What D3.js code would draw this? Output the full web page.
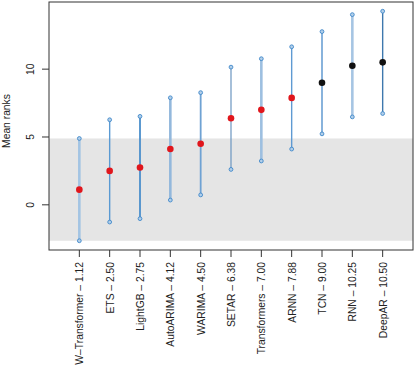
<!DOCTYPE html>
<html lang='en'>

<head>
   <meta charset='UTF-8'>
   <title>Mean ranks</title>
   <script src='https://d3js.org/d3.v7.min.js'></script>
   <style>
      body {
         margin: 0;
         background: #fff;
      }

      svg text {
         font-family: 'Liberation Sans', Arial, Helvetica, sans-serif;
         fill: #222;
      }
   </style>
</head>

<body>
   <div id='svg-container'></div>
   <script>

      const models = ['W–Transformer', 'ETS', 'LightGB', 'AutoARIMA', 'WARIMA', 'SETAR',
         'Transformers', 'ARNN', 'TCN', 'RNN', 'DeepAR'];
      const meanRanks = [1.12, 2.50, 2.75, 4.12, 4.50, 6.38, 7.00, 7.88, 9.00, 10.25, 10.50];
      const lowerRanks = [-2.65, -1.27, -1.02, 0.35, 0.73, 2.61, 3.23, 4.11, 5.23, 6.48, 6.73];
      const upperRanks = [4.89, 6.27, 6.52, 7.89, 8.27, 10.15, 10.77, 11.65, 12.77, 14.02, 14.27];
      const yTicks = [0, 5, 10];
      const bandRange = [-2.65, 4.89];

      // line look per model (colour, width)
      const lineStyles = [
         ['#a3c4e3', 2.6], ['#5a9ad3', 1.4], ['#4a8ecb', 1.8], ['#93b8dc', 2.6],
         ['#6fa2d3', 1.8], ['#6b95c0', 1.2], ['#9dbfe0', 2.6], ['#5f9ad2', 1.4],
         ['#5693cd', 1.4], ['#a6c5e3', 2.6], ['#3e78ae', 1.4]
      ];

      const W = 416, H = 368;
      const box = { left: 49, right: 413, top: 2, bottom: 250 };

      const svg = d3.select('#svg-container').append('svg').attr('width', W).attr('height', H);

      const x = d3.scaleLinear().domain([0, 12]).range([box.left, box.right]);
      const y = d3.scaleLinear().domain([-3.33, 14.95]).range([box.bottom, box.top]);

      // grey band = first model's interval
      svg.append('rect')
         .attr('x', box.left)
         .attr('width', box.right - box.left)
         .attr('y', y(bandRange[1]))
         .attr('height', y(bandRange[0]) - y(bandRange[1]))
         .attr('fill', '#e5e5e5');

      const data = models.map((m, i) => ({
         name: m, mean: meanRanks[i], lo: lowerRanks[i], hi: upperRanks[i], idx: i + 1
      }));

      svg.selectAll('line.ci').data(data)
         .enter()
         .append('line')
         .attr('class', 'ci')
         .attr('x1', d => x(d.idx))
         .attr('x2', d => x(d.idx))
         .attr('y1', d => y(d.lo))
         .attr('y2', d => y(d.hi))
         .attr('stroke', (d, i) => lineStyles[i][0])
         .attr('stroke-width', (d, i) => lineStyles[i][1]);

      // little end markers
      data.forEach(d => {
         [d.lo, d.hi].forEach(v => {
            svg.append('circle')
               .attr('cx', x(d.idx))
               .attr('cy', y(v))
               .attr('r', 1.9)
               .attr('fill', '#b3cfe9')
               .attr('stroke', '#4088c9')
               .attr('stroke-width', 0.9);
         });
      });

      // means: red when interval reaches the band, else black
      svg.selectAll('circle.mean').data(data)
         .enter()
         .append('circle')
         .attr('class', 'mean')
         .attr('cx', d => x(d.idx))
         .attr('cy', d => y(d.mean))
         .attr('r', 3.3)
         .attr('fill', d => d.lo <= bandRange[1] ? '#e0161c' : '#111');

      // frame
      svg.append('rect')
         .attr('x', box.left)
         .attr('y', box.top)
         .attr('width', box.right - box.left)
         .attr('height', box.bottom - box.top)
         .attr('fill', 'none')
         .attr('stroke', '#333')
         .attr('stroke-width', 1);

      // y axis
      const yAxis = svg.append('g');
      yTicks.forEach(t => {
         yAxis.append('line')
            .attr('x1', box.left - 7).attr('x2', box.left)
            .attr('y1', y(t)).attr('y2', y(t))
            .attr('stroke', '#333');
         yAxis.append('text')
            .attr('transform', `translate(34, ${y(t)}) rotate(-90)`)
            .attr('text-anchor', 'middle')
            .attr('font-size', '10.3px')
            .text(t);
      });

      svg.append('text')
         .attr('transform', `translate(10, 121) rotate(-90)`)
         .attr('text-anchor', 'middle')
         .attr('font-size', '10.3px')
         .text('Mean ranks');

      // x axis: rotated model labels
      const xAxis = svg.append('g');
      data.forEach(d => {
         xAxis.append('line')
            .attr('x1', x(d.idx)).attr('x2', x(d.idx))
            .attr('y1', box.bottom).attr('y2', box.bottom + 7)
            .attr('stroke', '#333');
         xAxis.append('text')
            .attr('transform', `translate(${x(d.idx) + 4}, 262) rotate(-90)`)
            .attr('text-anchor', 'end')
            .attr('font-size', '10.3px')
            .text(`${d.name} – ${d.mean.toFixed(2)}`);
      });

   </script>
</body>

</html>
